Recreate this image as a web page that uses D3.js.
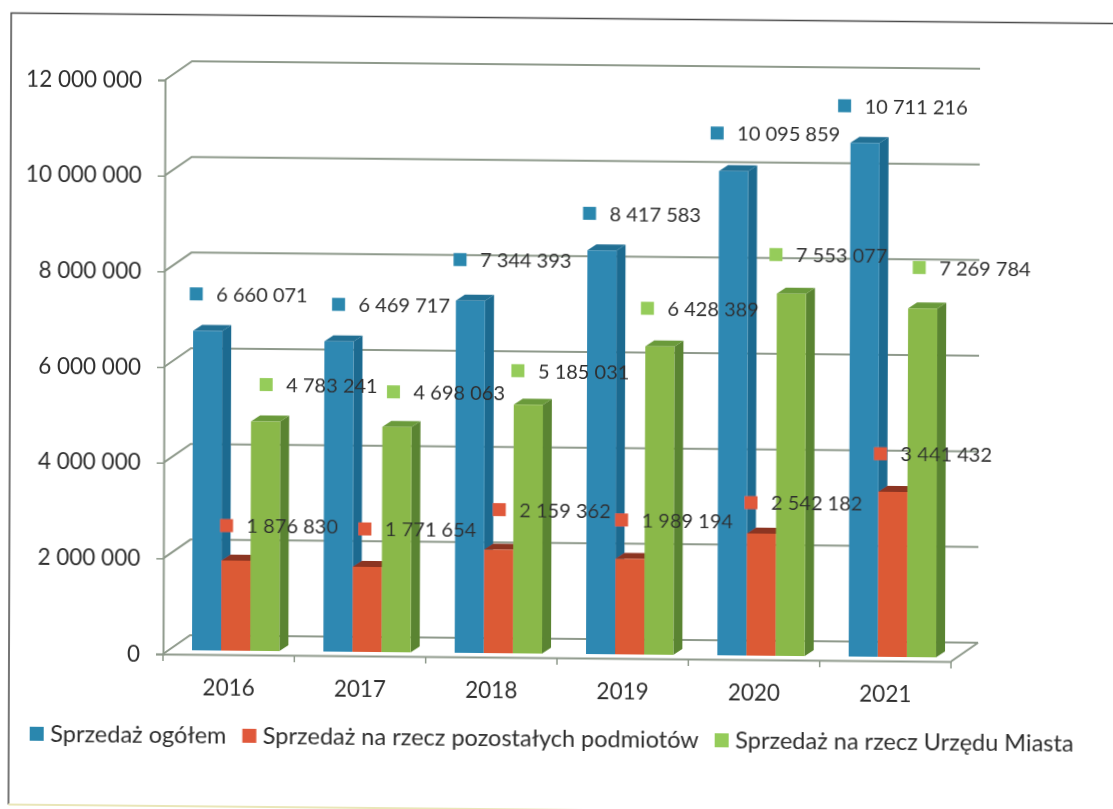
<!DOCTYPE html>
<html>
<head>
<meta charset="utf-8">
<script src="https://cdn.jsdelivr.net/npm/d3@7"></script>
<style>
    html, body { margin: 0; padding: 0; background: #fff; overflow: hidden; }
    text { font-family: Lato, "Open Sans", sans-serif; fill: #2e2e2e; }
</style>
</head>
<body>
<div id="chart"></div>
<script>
const categories = ["2016", "2017", "2018", "2019", "2020", "2021"];
const seriesNames = ["Sprzedaż ogółem", "Sprzedaż na rzecz pozostałych podmiotów", "Sprzedaż na rzecz Urzędu Miasta"];
const totalSales = [6660071, 6469717, 7344393, 8417583, 10095859, 10711216];
const otherSales = [1876830, 1771654, 2159362, 1989194, 2542182, 3441432];
const cityHallSales = [4783241, 4698063, 5185031, 6428389, 7553077, 7269784];
const yTicks = [0, 2000000, 4000000, 6000000, 8000000, 10000000, 12000000];

// hand-dragged data labels in the original: key offset from each bar's top-left corner
const totalLabelShift = [[3, -37], [14, -37], [4, -41], [2, -37], [-2, -38], [-6, -37]];
const otherLabelShift = [[5, -35], [12, -38], [15, -40], [6, -39], [4, -31], [2, -38]];
const cityLabelShift = [[15, -37], [11, -35], [4, -34], [2, -38], [-1, -39], [11, -41]];

const colors = [
    { front: "#2f88b2", side: "#1b6a90", top: "#206f94", key: "#2b87ae" },
    { front: "#dc5a36", side: "#a8391d", top: "#8c3420", key: "#e0593a" },
    { front: "#8ab84a", side: "#5a8430", top: "#6a9a3a", key: "#95cc5a" }
];

const width = 1113, height = 809;
const left = 163, right = 951, top0 = 80, bottom = 654;
const wallDx = 27, wallDy = 19;
const barDx = 9, barDy = 6;
const floorDx = 7, floorDy = 4;
const gridColor = "#8f9a8c";

const svg = d3.select("#chart")
    .append("svg")
    .attr("width", width)
    .attr("height", height);

// slight softening, the source is a scan
const soft = svg.append("defs").append("filter").attr("id", "soft");
soft.append("feGaussianBlur").attr("stdDeviation", 0.45);

// the scan is also skewed, so everything sits in one sheared group
const g = svg.append("g")
    .attr("filter", "url(#soft)")
    .attr("transform", "matrix(1,0.0095,-0.0035,1,2.289,-1.549)");

// Frame
g.append("path")
    .attr("d", "M9,806V14.5H1200")
    .attr("fill", "none")
    .attr("stroke", "#4a4a4a")
    .attr("stroke-width", 1.5);
g.append("line")
    .attr("x1", 9).attr("x2", 1200)
    .attr("y1", 806).attr("y2", 806)
    .attr("stroke", "#e9e6b8")
    .attr("stroke-width", 2);

const x = d3.scaleBand()
    .domain(categories)
    .range([left, right])
    .paddingInner(0.335)
    .paddingOuter(0.1675);
const xEdge = d3.scaleBand()
    .domain(categories)
    .range([left, right]);
const inner = d3.scaleBand()
    .domain(d3.range(seriesNames.length))
    .range([0, x.bandwidth()]);
const y = d3.scaleLinear()
    .domain([0, 12000000])
    .range([bottom, top0]);
// bars stand a little in front of the axis plane, so they scale slightly larger
const yBar = d3.scaleLinear()
    .domain([0, 12000000])
    .range([bottom - floorDy, top0 - floorDy - 1.5]);

const spaced = d3.formatLocale({ decimal: ",", thousands: " ", grouping: [3], currency: ["", ""] }).format(",");

// Walls and floor gridlines
g.append("g")
    .selectAll("path")
    .data(yTicks)
    .join("path")
    .attr("fill", "none")
    .attr("stroke", gridColor)
    .attr("stroke-width", 2)
    .attr("d", d => `M${left},${y(d)}L${left + wallDx},${y(d) - wallDy}H${right + wallDx}`);
g.append("path")
    .attr("fill", "none")
    .attr("stroke", gridColor)
    .attr("stroke-width", 2)
    .attr("d", `M${right + wallDx},${y(0) - wallDy}L${right},${y(0)}`);

// Y axis
const yAxis = g.append("g")
    .attr("transform", `translate(${left},0)`)
    .call(d3.axisLeft(y).tickValues(yTicks).tickFormat(spaced).tickSize(7).tickPadding(16));
yAxis.select(".domain").attr("stroke", gridColor).attr("stroke-width", 2);
yAxis.selectAll(".tick line").attr("stroke", gridColor).attr("stroke-width", 1.5);
yAxis.selectAll("text").attr("font-size", 22.5).attr("font-family", null);

// X axis
const xAxis = g.append("g")
    .attr("transform", `translate(0,${bottom})`)
    .call(d3.axisBottom(xEdge).tickSize(0).tickPadding(25));
xAxis.select(".domain").attr("stroke", gridColor).attr("stroke-width", 2);
xAxis.selectAll("text").attr("font-size", 22.5).attr("font-family", null);
xAxis.selectAll("line.edge")
    .data([...categories.map(d => xEdge(d)), right])
    .join("line")
    .attr("class", "edge")
    .attr("x1", d => d).attr("x2", d => d)
    .attr("y1", 0).attr("y2", 7)
    .attr("stroke", gridColor)
    .attr("stroke-width", 1.5);

// Bars
const series = [
    { name: seriesNames[0], values: totalSales, shift: totalLabelShift },
    { name: seriesNames[1], values: otherSales, shift: otherLabelShift },
    { name: seriesNames[2], values: cityHallSales, shift: cityLabelShift }
];
const barX = (cat, s) => x(cat) + inner(s) + floorDx;
const w = inner.bandwidth();

categories.forEach((cat, c) => {
    series.forEach((sr, s) => {
        const v = sr.values[c], bx = barX(cat, s), by = yBar(v), base = yBar(0);
        g.append("path")
            .attr("fill", colors[s].side)
            .attr("d", `M${bx + w},${by}l${barDx},${-barDy}V${base - barDy}l${-barDx},${barDy}Z`);
        g.append("path")
            .attr("fill", colors[s].top)
            .attr("d", `M${bx},${by}l${barDx},${-barDy}h${w}l${-barDx},${barDy}Z`);
        g.append("rect")
            .attr("x", bx).attr("y", by)
            .attr("width", w).attr("height", base - by)
            .attr("fill", colors[s].front);
    });
});

// Data labels with legend keys
series.forEach((sr, s) => {
    const labels = g.append("g")
        .selectAll("g")
        .data(categories)
        .join("g")
        .attr("transform", (cat, c) =>
            `translate(${barX(cat, s) + sr.shift[c][0]},${yBar(sr.values[c]) + sr.shift[c][1]})`);
    labels.append("rect")
        .attr("x", -6.5).attr("y", -6.5)
        .attr("width", 13).attr("height", 13)
        .attr("fill", colors[s].key);
    labels.append("text")
        .attr("x", 20)
        .attr("dy", "0.36em")
        .attr("font-size", 20)
        .text((cat, c) => spaced(sr.values[c]));
});

// Legend
let legendX = 30;
seriesNames.forEach((name, s) => {
    g.append("rect")
        .attr("x", legendX).attr("y", 728)
        .attr("width", 14).attr("height", 14)
        .attr("fill", colors[s].key);
    const t = g.append("text")
        .attr("x", legendX + 20.5).attr("y", 735)
        .attr("dy", "0.36em")
        .attr("font-size", 23.5)
        .text(name);
    legendX += 20.5 + t.node().getComputedTextLength() + 16;
});
</script>
</body>
</html>
